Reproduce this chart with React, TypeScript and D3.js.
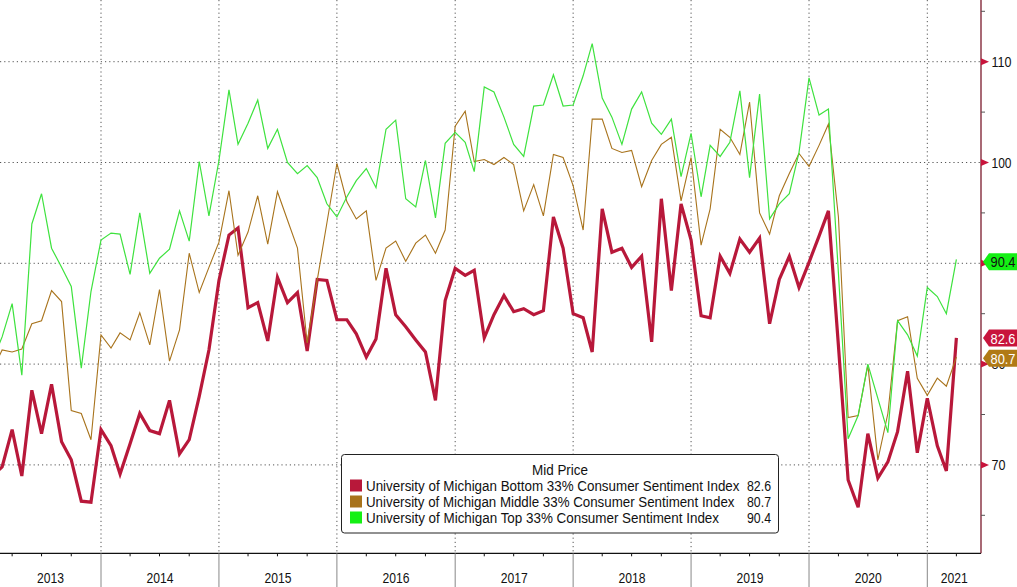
import React from "react";
import * as d3 from "d3";

const W = 1017;
const H = 587;

// monthly observations, Feb 2013 .. Apr 2021 (month index 1..99 from Jan 2013)
const startMonth = 1;
const bottomThird = [
  69.0, 69.8, 73.5, 68.9, 77.4, 73.1, 78.0, 72.3, 70.5, 66.4, 66.3,
  73.5, 71.9, 69.1, 72.1, 75.1, 73.4, 73.1, 76.4, 71.1, 72.5, 76.8, 81.4,
  88.3, 92.8, 93.5, 85.6, 86.1, 82.3, 88.6, 86.1, 87.1, 81.3, 88.4, 88.3,
  84.4, 84.4, 83.0, 80.7, 82.5, 89.5, 84.9, 83.7, 82.4, 81.2, 76.4, 86.3,
  89.5, 88.8, 89.3, 82.6, 84.9, 86.8, 85.2, 85.5, 84.9, 85.3, 94.6, 91.5,
  85.0, 84.6, 81.2, 95.4, 91.1, 91.5, 89.6, 90.7, 82.2, 96.4, 87.3, 95.9,
  92.3, 84.8, 84.6, 90.7, 89.0, 92.4, 91.1, 92.5, 84.0, 88.4, 90.7, 87.6,
  90.1, 92.7, 95.2, 81.8, 68.5, 65.8, 73.1, 68.7, 70.3, 73.3, 79.3, 71.2,
  76.6, 71.9, 69.4, 82.6,
];
const middleThird = [
  79.5, 81.4, 81.2, 81.5, 84.0, 84.3, 87.3, 86.2, 75.4, 75.1, 72.5,
  82.9, 81.6, 83.1, 82.4, 85.1, 81.9, 87.4, 80.3, 83.4, 91.0, 87.1, 89.6,
  92.1, 97.2, 90.8, 93.1, 96.7, 91.9, 97.1, 94.3, 91.5, 82.1, 88.3, 94.0,
  99.9, 96.1, 94.4, 95.2, 88.3, 91.5, 92.2, 90.2, 92.0, 92.8, 91.0, 93.3,
  103.6, 105.1, 100.1, 100.3, 99.8, 100.5, 99.8, 95.2, 97.8, 94.7, 100.8, 100.5,
  97.7, 93.3, 104.3, 104.3, 101.4, 101.0, 101.2, 97.6, 100.2, 101.8, 102.5, 96.2,
  100.5, 91.8, 95.4, 103.3, 102.5, 100.8, 106.0, 95.0, 92.9, 96.7, 98.9, 100.9,
  99.6, 101.7, 103.8, 94.6, 74.7, 74.9, 79.9, 70.5, 75.1, 84.3, 84.7, 78.6,
  76.9, 78.6, 77.8, 80.7,
];
const topThird = [
  80.5, 82.7, 86.0, 78.9, 93.9, 96.9, 91.5, 89.6, 87.7, 79.6, 87.2,
  92.3, 93.0, 92.9, 88.9, 95.0, 89.0, 90.5, 91.4, 95.2, 92.2, 100.1, 94.7,
  100.2, 107.2, 101.8, 103.9, 106.2, 101.4, 103.3, 100.0, 98.9, 99.7, 98.5, 95.9,
  94.6, 96.6, 98.2, 99.4, 97.5, 103.3, 104.2, 96.4, 95.6, 100.2, 94.5, 101.9,
  103.0, 102.0, 99.1, 107.5, 107.0, 104.5, 101.8, 100.6, 105.6, 105.7, 108.7, 105.6,
  105.7, 108.6, 111.8, 106.4, 104.5, 101.8, 105.3, 107.0, 103.9, 102.8, 104.3, 98.6,
  102.9, 96.6, 101.7, 100.6, 102.0, 107.1, 98.5, 106.8, 94.4, 95.9, 96.9, 101.0,
  108.4, 104.7, 105.3, 89.0, 72.6, 74.9, 80.0, 76.6, 73.2, 84.3, 82.9, 80.8,
  87.6, 86.7, 85.0, 90.4,
];

const years = [2013, 2014, 2015, 2016, 2017, 2018, 2019, 2020, 2021];
const majorTicks = [70, 80, 90, 100, 110];
// tick labels hidden behind the last-value tags in the reference
const hiddenTickLabels = [90];
const minorTicks = [65, 75, 85, 95, 105, 115];

const seriesNames = [
  "University of Michigan Bottom 33% Consumer Sentiment Index",
  "University of Michigan Middle 33% Consumer Sentiment Index",
  "University of Michigan Top 33% Consumer Sentiment Index",
];
const lastValues = ["82.6", "80.7", "90.4"];
const legendTitle = "Mid Price";

const RED = "#b8183a";
const BROWN = "#a8731c";
const GREEN = "#3ee23e";
const FONT = "'Liberation Sans', Arial, sans-serif";

export default function App() {
  const plotRight = 981;
  const plotBottom = 553.3;

  const x = d3
    .scaleTime()
    .domain([new Date(2014, 0, 1), new Date(2021, 0, 1)])
    .range([101, 927.3]);
  const y = d3.scaleLinear().domain([100, 110]).range([162.5, 61.7]);

  const mkData = (arr: number[]) =>
    arr.map((v, i) => ({ d: new Date(2013, startMonth + i, 1), v }));

  const line = d3
    .line<{ d: Date; v: number }>()
    .x((p) => x(p.d))
    .y((p) => y(p.v));

  const series = [
    { data: mkData(bottomThird), color: RED, width: 3.2 },
    { data: mkData(middleThird), color: BROWN, width: 1.1 },
    { data: mkData(topThird), color: GREEN, width: 1.2 },
  ];

  const yearStarts = years.map((yr) => new Date(yr, 0, 1));
  const quarterTicks: Date[] = [];
  years.forEach((yr) => {
    [3, 6, 9].forEach((m) => quarterTicks.push(new Date(yr, m, 1)));
  });

  const gridColor = "#555";
  const dash = "1.2,3";

  const labelBoxes = [
    { text: lastValues[2], fill: "#14f014", color: "#111", cy: 261.7 },
    { text: lastValues[0], fill: "#c8143c", color: "#fff", cy: 338 },
    { text: lastValues[1], fill: "#b07a16", color: "#fff", cy: 358.3 },
  ];

  const nameLengths = [373.5, 368.5, 353];

  return (
    <div style={{ position: "absolute", left: 0, top: 0 }}>
      <svg width={W} height={H} style={{ display: "block", background: "#fff" }}>
        <defs>
          <clipPath id="plotClip">
            <rect x={0} y={0} width={plotRight} height={plotBottom} />
          </clipPath>
        </defs>

        {/* horizontal grid */}
        {majorTicks.map((t) => (
          <line
            key={"hg" + t}
            x1={0}
            x2={plotRight}
            y1={y(t)}
            y2={y(t)}
            stroke={gridColor}
            strokeWidth={1}
            strokeDasharray={dash}
          />
        ))}
        {/* vertical grid */}
        {yearStarts.slice(1).map((d, i) => (
          <line
            key={"vg" + i}
            x1={x(d)}
            x2={x(d)}
            y1={0}
            y2={plotBottom}
            stroke={gridColor}
            strokeWidth={1}
            strokeDasharray={dash}
          />
        ))}

        {/* series */}
        <g clipPath="url(#plotClip)">
          {series.map((s, i) => (
            <path
              key={"s" + i}
              d={line(s.data) || ""}
              fill="none"
              stroke={s.color}
              strokeWidth={s.width}
              strokeLinejoin="miter"
            />
          ))}
        </g>

        {/* x axis */}
        <line x1={0} x2={plotRight} y1={plotBottom} y2={plotBottom} stroke="#111" strokeWidth={1.2} />
        {quarterTicks
          .filter((d) => x(d) > 0 && x(d) < plotRight)
          .map((d, i) => (
            <line
              key={"qt" + i}
              x1={x(d)}
              x2={x(d)}
              y1={plotBottom}
              y2={plotBottom + 3}
              stroke="#111"
              strokeWidth={1}
            />
          ))}
        {yearStarts.slice(1).map((d, i) => (
          <line
            key={"ys" + i}
            x1={x(d)}
            x2={x(d)}
            y1={plotBottom}
            y2={H}
            stroke="#888"
            strokeWidth={1}
          />
        ))}
        {years.map((yr) => {
          const a = Math.max(0, x(new Date(yr, 0, 1)));
          const b = Math.min(plotRight, x(new Date(yr + 1, 0, 1)));
          const cx = (a + b) / 2;
          return (
            <text
              key={"yl" + yr}
              x={cx - 13.5}
              y={583}
              fontFamily={FONT}
              fontSize={14}
              textLength={27}
              lengthAdjust="spacingAndGlyphs"
              fill="#111"
            >
              {yr}
            </text>
          );
        })}

        {/* right axis */}
        <line x1={plotRight} x2={plotRight} y1={0} y2={plotBottom} stroke="#7a1a2c" strokeWidth={1.3} />
        {minorTicks.map((t) => (
          <line
            key={"mt" + t}
            x1={plotRight}
            x2={plotRight + 4}
            y1={y(t)}
            y2={y(t)}
            stroke="#555"
            strokeWidth={1}
          />
        ))}
        {majorTicks.map((t) => (
          <g key={"mj" + t}>
            <path
              d={`M${plotRight},${y(t) - 3.5} L${plotRight + 8},${y(t)} L${plotRight},${y(t) + 3.5} Z`}
              fill="#c8143c"
            />
            {hiddenTickLabels.indexOf(t) < 0 && (
              <text
                x={plotRight + 10.5}
                y={y(t) + 5}
                fontFamily={FONT}
                fontSize={14}
                textLength={t >= 100 ? 20 : 14}
                lengthAdjust="spacingAndGlyphs"
                fill="#111"
              >
                {t}
              </text>
            )}
          </g>
        ))}

        {/* last value labels */}
        {labelBoxes.map((b, i) => (
          <g key={"lb" + i}>
            <path
              d={`M${plotRight + 2},${b.cy} L${plotRight + 8},${b.cy - 8.5} L${W},${b.cy - 8.5} L${W},${b.cy + 8.5} L${plotRight + 8},${b.cy + 8.5} Z`}
              fill={b.fill}
            />
            <text
              x={plotRight + 9.5}
              y={b.cy + 5.5}
              fontFamily={FONT}
              fontSize={14}
              textLength={25}
              lengthAdjust="spacingAndGlyphs"
              fill={b.color}
            >
              {b.text}
            </text>
          </g>
        ))}

        {/* legend */}
        <g>
          <rect
            x={341.5}
            y={454.5}
            width={437}
            height={78.5}
            rx={3}
            fill="#fff"
            stroke="#222"
            strokeWidth={1}
          />
          <text
            x={532}
            y={475}
            fontFamily={FONT}
            fontSize={14}
            textLength={56}
            lengthAdjust="spacingAndGlyphs"
            fill="#111"
          >
            {legendTitle}
          </text>
          {seriesNames.map((name, i) => {
            const rowY = 491 + i * 16;
            const col = [RED, BROWN, "#14f014"][i];
            return (
              <g key={"lg" + i}>
                <rect x={350} y={rowY - 11.5} width={12} height={12} fill={col} />
                <text
                  x={366}
                  y={rowY}
                  fontFamily={FONT}
                  fontSize={14}
                  textLength={nameLengths[i]}
                  lengthAdjust="spacingAndGlyphs"
                  fill="#111"
                >
                  {name}
                </text>
                <text
                  x={747}
                  y={rowY}
                  fontFamily={FONT}
                  fontSize={14}
                  textLength={24}
                  lengthAdjust="spacingAndGlyphs"
                  fill="#111"
                >
                  {lastValues[i]}
                </text>
              </g>
            );
          })}
        </g>
      </svg>
    </div>
  );
}
